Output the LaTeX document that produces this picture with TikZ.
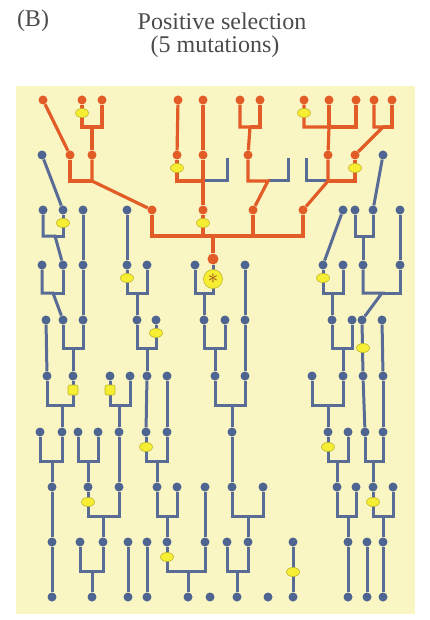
\documentclass[tikz,border=0pt]{standalone}
\usepackage{fontspec}
\setmainfont{Liberation Serif}
\usepackage{tikz}
\usetikzlibrary{shapes.geometric}
\definecolor{bgyel}{RGB}{250,246,196}
\definecolor{dotblue}{RGB}{78,100,145}
\definecolor{lineblue}{RGB}{88,108,150}
\definecolor{selorange}{RGB}{226,92,40}
\definecolor{mutyel}{RGB}{246,238,50}
\definecolor{mutedge}{RGB}{190,180,40}
\definecolor{titlegray}{RGB}{75,75,75}

\begin{document}
\begin{tikzpicture}[x=1pt, y=-1pt,
  bdot/.style={circle, fill=dotblue, inner sep=0pt, minimum size=9pt},
  odot/.style={circle, fill=selorange, inner sep=0pt, minimum size=9pt},
  bl/.style={draw=lineblue, line width=3pt},
  ol/.style={draw=selorange, line width=3.2pt},
  mut/.style={ellipse, fill=mutyel, draw=mutedge, line width=0.6pt, inner sep=0pt, minimum width=13pt, minimum height=9pt},
  mutsq/.style={rectangle, rounded corners=2pt, fill=mutyel, draw=mutedge, line width=0.6pt, inner sep=0pt, minimum size=10pt},
  sweep/.style={circle, fill=mutyel, draw=mutedge, line width=0.6pt, inner sep=0pt, minimum size=19pt, text=selorange!70!black, font=\fontsize{20}{20}\selectfont},
  title/.style={text=titlegray, font=\fontsize{24}{28}\selectfont}]
\useasboundingbox (0,0) rectangle (429,620);
\fill[bgyel] (16,86) rectangle (415,614);
\node[title] (lab) at (33,21) {(B)};
\node[title] (ttl) at (222,21) {Positive selection};
\node[title] (sub) at (215,47) {(5 mutations)};
\node[bdot] (n0a) at (52,597) {};
\node[bdot] (n0b) at (92,597) {};
\node[bdot] (n0c) at (128,597) {};
\node[bdot] (n0d) at (147,597) {};
\node[bdot] (n0e) at (188,597) {};
\node[bdot] (n0f) at (210,597) {};
\node[bdot] (n0g) at (237,597) {};
\node[bdot] (n0h) at (268,597) {};
\node[bdot] (n0i) at (293,597) {};
\node[bdot] (n0j) at (348,597) {};
\node[bdot] (n0k) at (367,597) {};
\node[bdot] (n0l) at (383,597) {};
\node[bdot] (n1a) at (52,542) {};
\node[bdot] (n1b) at (80,542) {};
\node[bdot] (n1c) at (103,542) {};
\node[bdot] (n1d) at (128,542) {};
\node[bdot] (n1e) at (147,542) {};
\node[bdot] (n1f) at (167,542) {};
\node[bdot] (n1g) at (205,542) {};
\node[bdot] (n1h) at (227,542) {};
\node[bdot] (n1i) at (248,542) {};
\node[bdot] (n1j) at (293,542) {};
\node[bdot] (n1k) at (348,542) {};
\node[bdot] (n1l) at (367,542) {};
\node[bdot] (n1m) at (383,542) {};
\node[bdot] (n2a) at (52,487) {};
\node[bdot] (n2b) at (88,487) {};
\node[bdot] (n2c) at (119,487) {};
\node[bdot] (n2d) at (157,487) {};
\node[bdot] (n2e) at (177,487) {};
\node[bdot] (n2f) at (205,487) {};
\node[bdot] (n2g) at (232,487) {};
\node[bdot] (n2h) at (263,487) {};
\node[bdot] (n2i) at (337,487) {};
\node[bdot] (n2j) at (356,487) {};
\node[bdot] (n2k) at (373,487) {};
\node[bdot] (n2l) at (393,487) {};
\node[bdot] (n3a) at (40,432) {};
\node[bdot] (n3b) at (62,432) {};
\node[bdot] (n3c) at (78,432) {};
\node[bdot] (n3d) at (98,432) {};
\node[bdot] (n3e) at (119,432) {};
\node[bdot] (n3f) at (146,432) {};
\node[bdot] (n3g) at (167,432) {};
\node[bdot] (n3h) at (232,432) {};
\node[bdot] (n3i) at (328,432) {};
\node[bdot] (n3j) at (348,432) {};
\node[bdot] (n3k) at (365,432) {};
\node[bdot] (n3l) at (383,432) {};
\node[bdot] (n4a) at (47,376) {};
\node[bdot] (n4b) at (73,376) {};
\node[bdot] (n4c) at (110,376) {};
\node[bdot] (n4d) at (130,376) {};
\node[bdot] (n4e) at (147,376) {};
\node[bdot] (n4f) at (167,376) {};
\node[bdot] (n4g) at (215,376) {};
\node[bdot] (n4h) at (245,376) {};
\node[bdot] (n4i) at (312,376) {};
\node[bdot] (n4j) at (343,376) {};
\node[bdot] (n4k) at (363,376) {};
\node[bdot] (n4l) at (383,376) {};
\node[bdot] (n5a) at (46,320) {};
\node[bdot] (n5b) at (63,320) {};
\node[bdot] (n5c) at (83,320) {};
\node[bdot] (n5d) at (137,320) {};
\node[bdot] (n5e) at (156,320) {};
\node[bdot] (n5f) at (204,320) {};
\node[bdot] (n5g) at (225,320) {};
\node[bdot] (n5h) at (245,320) {};
\node[bdot] (n5i) at (332,320) {};
\node[bdot] (n5j) at (352,320) {};
\node[bdot] (n5k) at (362,320) {};
\node[bdot] (n5l) at (382,320) {};
\node[bdot] (n6a) at (42,265) {};
\node[bdot] (n6b) at (63,265) {};
\node[bdot] (n6c) at (83,265) {};
\node[bdot] (n6d) at (127,265) {};
\node[bdot] (n6e) at (147,265) {};
\node[bdot] (n6f) at (195,265) {};
\node[odot, minimum size=11pt] (n6g) at (213,259) {};
\node[bdot] (n6h) at (245,265) {};
\node[bdot] (n6i) at (323,265) {};
\node[bdot] (n6j) at (343,265) {};
\node[bdot] (n6k) at (363,265) {};
\node[bdot] (n6l) at (400,265) {};
\node[bdot] (n7a) at (43,210) {};
\node[bdot] (n7b) at (63,210) {};
\node[bdot] (n7c) at (83,210) {};
\node[bdot] (n7d) at (127,210) {};
\node[odot] (n7e) at (152,210) {};
\node[odot] (n7f) at (203,210) {};
\node[odot] (n7g) at (253,210) {};
\node[odot] (n7h) at (303,210) {};
\node[bdot] (n7i) at (343,210) {};
\node[bdot] (n7j) at (355,210) {};
\node[bdot] (n7k) at (373,210) {};
\node[bdot] (n7l) at (400,210) {};
\node[bdot] (n8a) at (42,155) {};
\node[odot] (n8b) at (70,155) {};
\node[odot] (n8c) at (92,155) {};
\node[odot] (n8d) at (177,155) {};
\node[odot] (n8e) at (203,155) {};
\node[odot] (n8f) at (248,155) {};
\node[odot] (n8g) at (328,155) {};
\node[odot] (n8h) at (355,155) {};
\node[bdot] (n8i) at (383,155) {};
\coordinate (s8a) at (227,158);
\coordinate (s8b) at (288,158);
\coordinate (s8c) at (306,158);
\node[odot] (n9a) at (43,100) {};
\node[odot] (n9b) at (82,100) {};
\node[odot] (n9c) at (102,100) {};
\node[odot] (n9d) at (178,100) {};
\node[odot] (n9e) at (203,100) {};
\node[odot] (n9f) at (240,100) {};
\node[odot] (n9g) at (260,100) {};
\node[odot] (n9h) at (304,100) {};
\node[odot] (n9i) at (329,100) {};
\node[odot] (n9j) at (356,100) {};
\node[odot] (n9k) at (374,100) {};
\node[odot] (n9l) at (392,100) {};
\coordinate (j1a) at (92,571);
\coordinate (j1b) at (188,571);
\coordinate (j1c) at (237,571);
\coordinate (j2a) at (103,516);
\coordinate (j2b) at (167,516);
\coordinate (j2c) at (248,516);
\coordinate (j2d) at (348,516);
\coordinate (j2e) at (383,516);
\coordinate (j3a) at (52,461);
\coordinate (j3b) at (88,461);
\coordinate (j3c) at (157,461);
\coordinate (j3d) at (337,461);
\coordinate (j3e) at (373,461);
\coordinate (j4a) at (62,405);
\coordinate (j4b) at (119,405);
\coordinate (j4c) at (232,405);
\coordinate (j4d) at (328,405);
\coordinate (j5a) at (73,348);
\coordinate (j5b) at (147,348);
\coordinate (j5c) at (215,348);
\coordinate (j5d) at (343,348);
\coordinate (j6a) at (53,293);
\coordinate (j6b) at (137,293);
\coordinate (j6c) at (204,293);
\coordinate (j6d) at (332,293);
\coordinate (j6e) at (382,293);
\coordinate (j7a) at (55,236);
\coordinate (j7b) at (213,236);
\coordinate (j7c) at (363,236);
\coordinate (j8a) at (92,181);
\coordinate (j8b) at (203,181);
\coordinate (j8c) at (268,181);
\coordinate (j8d) at (328,181);
\coordinate (j9a) at (92,127);
\coordinate (j9b) at (250,127);
\coordinate (j9c) at (329,127);
\coordinate (j9d) at (383,127);
\draw[bl] (n1a) -- (n0a);
\draw[bl] (n1b) |- (j1a) -- (n0b);
\draw[bl] (n1c) |- (j1a);
\draw[bl] (n1d) -- (n0c);
\draw[bl] (n1e) -- (n0d);
\draw[bl] (n1f) |- (j1b) -- (n0e);
\draw[bl] (n1g) |- (j1b);
\draw[bl] (n1h) |- (j1c) -- (n0g);
\draw[bl] (n1i) |- (j1c);
\draw[bl] (n1j) -- (n0i);
\draw[bl] (n1k) -- (n0j);
\draw[bl] (n1l) -- (n0k);
\draw[bl] (n1m) -- (n0l);
\draw[bl] (n2a) -- (n1a);
\draw[bl] (n2b) |- (j2a) -- (n1c);
\draw[bl] (n2c) |- (j2a);
\draw[bl] (n2d) |- (j2b) -- (n1f);
\draw[bl] (n2e) |- (j2b);
\draw[bl] (n2f) -- (n1g);
\draw[bl] (n2g) |- (j2c) -- (n1i);
\draw[bl] (n2h) |- (j2c);
\draw[bl] (n2i) |- (j2d) -- (n1k);
\draw[bl] (n2j) |- (j2d);
\draw[bl] (n2k) |- (j2e) -- (n1m);
\draw[bl] (n2l) |- (j2e);
\draw[bl] (n3a) |- (j3a) -- (n2a);
\draw[bl] (n3b) |- (j3a);
\draw[bl] (n3c) |- (j3b) -- (n2b);
\draw[bl] (n3d) |- (j3b);
\draw[bl] (n3e) -- (n2c);
\draw[bl] (n3f) |- (j3c) -- (n2d);
\draw[bl] (n3g) |- (j3c);
\draw[bl] (n3h) -- (n2g);
\draw[bl] (n3i) |- (j3d) -- (n2i);
\draw[bl] (n3j) |- (j3d);
\draw[bl] (n3k) |- (j3e) -- (n2k);
\draw[bl] (n3l) |- (j3e);
\draw[bl] (n4a) |- (j4a) -- (n3b);
\draw[bl] (n4b) |- (j4a);
\draw[bl] (n4c) |- (j4b) -- (n3e);
\draw[bl] (n4d) |- (j4b);
\draw[bl] (n4e) -- (n3f);
\draw[bl] (n4f) -- (n3g);
\draw[bl] (n4g) |- (j4c) -- (n3h);
\draw[bl] (n4h) |- (j4c);
\draw[bl] (n4i) |- (j4d) -- (n3i);
\draw[bl] (n4j) |- (j4d);
\draw[bl] (n4k) -- (n3k);
\draw[bl] (n4l) -- (n3l);
\draw[bl] (n5a) -- (n4a);
\draw[bl] (n5b) |- (j5a) -- (n4b);
\draw[bl] (n5c) |- (j5a);
\draw[bl] (n5d) |- (j5b) -- (n4e);
\draw[bl] (n5e) |- (j5b);
\draw[bl] (n5f) |- (j5c) -- (n4g);
\draw[bl] (n5g) |- (j5c);
\draw[bl] (n5h) -- (n4h);
\draw[bl] (n5i) |- (j5d) -- (n4j);
\draw[bl] (n5j) |- (j5d);
\draw[bl] (n5k) -- (n4k);
\draw[bl] (n5l) -- (n4l);
\draw[bl] (n6a) |- (j6a) -- (n5b);
\draw[bl] (n6b) |- (j6a);
\draw[bl] (n6c) -- (n5c);
\draw[bl] (n6d) |- (j6b) -- (n5d);
\draw[bl] (n6e) |- (j6b);
\draw[bl] (n6f) |- (j6c) -- (n5f);
\draw[bl] (n6g) |- (j6c);
\draw[bl] (n6h) -- (n5h);
\draw[bl] (n6i) |- (j6d) -- (n5i);
\draw[bl] (n6j) |- (j6d);
\draw[bl] (n6k) |- (j6e) -- (n5k);
\draw[bl] (n6l) |- (j6e);
\draw[bl] (n7a) |- (j7a) -- (n6b);
\draw[bl] (n7b) |- (j7a);
\draw[bl] (n7c) -- (n6c);
\draw[bl] (n7d) -- (n6d);
\draw[bl] (n7i) -- (n6i);
\draw[bl] (n7j) |- (j7c) -- (n6k);
\draw[bl] (n7k) |- (j7c);
\draw[bl] (n7l) -- (n6l);
\draw[bl] (n8a) -- (n7b);
\draw[bl] (n8i) -- (n7k);
\draw[bl] (s8a) |- (j8b);
\draw[bl] (s8b) |- (j8c);
\draw[bl] (s8c) |- (j8d);
\draw[ol] (n7e) |- (j7b) -- (n6g);
\draw[ol] (n7f) |- (j7b);
\draw[ol] (n7g) |- (j7b);
\draw[ol] (n7h) |- (j7b);
\draw[ol] (n8b) |- (j8a);
\draw[ol] (n8c) -- (j8a) -- (n7e);
\draw[ol] (n8d) |- (j8b);
\draw[ol] (n8e) -- (j8b) -- (n7f);
\draw[ol] (n8f) |- (j8c) -- (n7g);
\draw[ol] (n8g) -- (j8d) -- (n7h);
\draw[ol] (n8h) |- (j8d);
\draw[ol] (n9a) -- (n8b);
\draw[ol] (n9b) |- (j9a) -- (n8c);
\draw[ol] (n9c) |- (j9a);
\draw[ol] (n9d) -- (n8d);
\draw[ol] (n9e) -- (n8e);
\draw[ol] (n9f) |- (j9b) -- (n8f);
\draw[ol] (n9g) |- (j9b);
\draw[ol] (n9h) |- (j9c) -- (n8g);
\draw[ol] (n9i) -- (j9c);
\draw[ol] (n9j) |- (j9c);
\draw[ol] (n9k) |- (j9d) -- (n8h);
\draw[ol] (n9l) |- (j9d);
\node[mut] (m1) at (82,113) {};
\node[mut] (m2) at (177,168) {};
\node[mut] (m3) at (304,113) {};
\node[mut] (m4) at (355,168) {};
\node[mut] (m5) at (203,223) {};
\node[mut] (m6) at (63,223) {};
\node[mut] (m7) at (127,278) {};
\node[mut] (m8) at (323,278) {};
\node[mut] (m9) at (156,333) {};
\node[mut] (m10) at (363,348) {};
\node[mutsq] (m11) at (73,390) {};
\node[mutsq] (m12) at (110,390) {};
\node[mut] (m13) at (146,447) {};
\node[mut] (m14) at (328,447) {};
\node[mut] (m15) at (88,502) {};
\node[mut] (m16) at (373,502) {};
\node[mut] (m17) at (167,557) {};
\node[mut] (m18) at (293,572) {};
\node[sweep] (mstar) at (213,279) {$\ast$};
\end{tikzpicture}
\end{document}
